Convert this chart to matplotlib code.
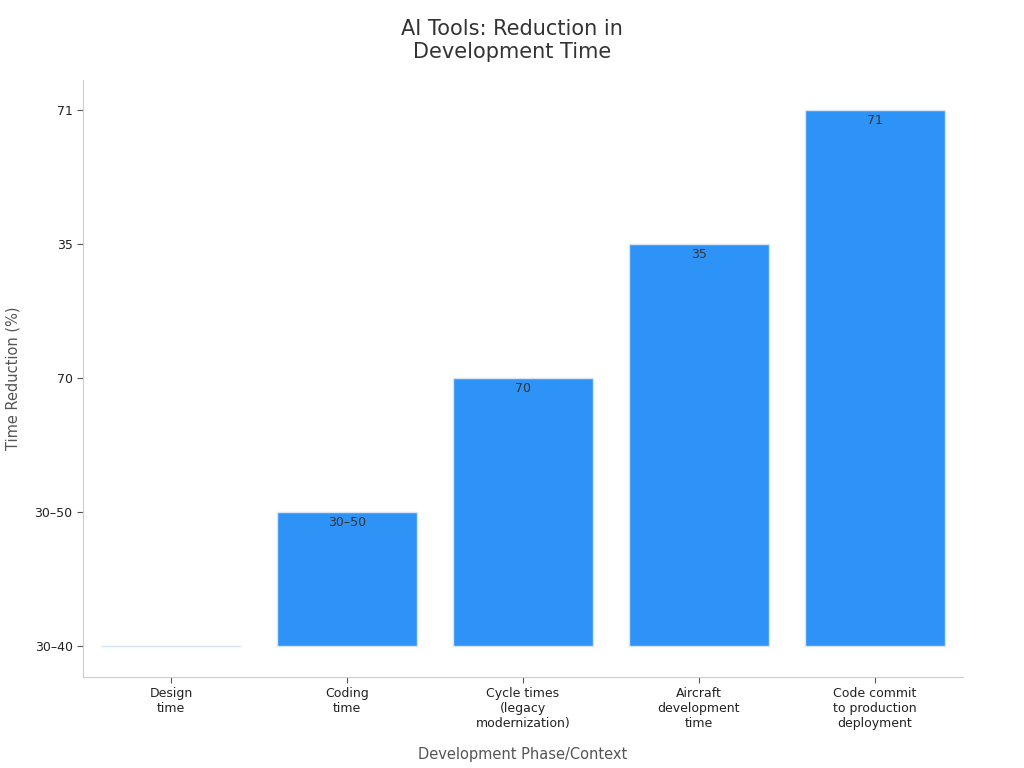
import matplotlib.pyplot as plt
import numpy as np

categories = ["Design\ntime", "Coding\ntime", "Cycle times\n(legacy\nmodernization)",
              "Aircraft\ndevelopment\ntime", "Code commit\nto production\ndeployment"]
value_labels = ["30\u201340", "30\u201350", "70", "35", "71"]

# y axis is categorical: each value label sits at its own row
y_levels = np.arange(len(value_labels))
x = np.arange(len(categories))

fig = plt.figure(figsize=(10.24, 7.68), dpi=100)
ax = fig.add_axes([83 / 1024, 1 - 677 / 768, 880 / 1024, 597 / 768])

bars = ax.bar(x, y_levels, width=0.8, color="#2E93F7", edgecolor="#d6e6f5", linewidth=1)
for xi, yi, lab in zip(x, y_levels, value_labels):
    if yi > 0:
        ax.text(xi, yi - 0.03, lab, ha="center", va="top", fontsize=9, color="#333333")

ax.set_xlim(-0.5, 4.5)
ax.set_ylim(-0.23, 4.22)
ax.set_xticks(x)
ax.set_xticklabels(categories, fontsize=9, color="#222222")
ax.set_yticks(y_levels)
ax.set_yticklabels(value_labels, fontsize=9, color="#222222")

for side in ["top", "right"]:
    ax.spines[side].set_visible(False)
for side in ["left", "bottom"]:
    ax.spines[side].set_color("#cccccc")
ax.tick_params(colors="#555555", length=4)
ax.tick_params(axis="both", labelcolor="#222222")

ax.set_xlabel("Development Phase/Context", fontsize=10.5, color="#555555", labelpad=12)
ax.set_ylabel("Time Reduction (%)", fontsize=10.5, color="#555555", labelpad=10)
fig.suptitle("AI Tools: Reduction in\nDevelopment Time", fontsize=15, color="#333333",
             x=512 / 1024, y=0.975)

fig.savefig("out.png", dpi=100)
